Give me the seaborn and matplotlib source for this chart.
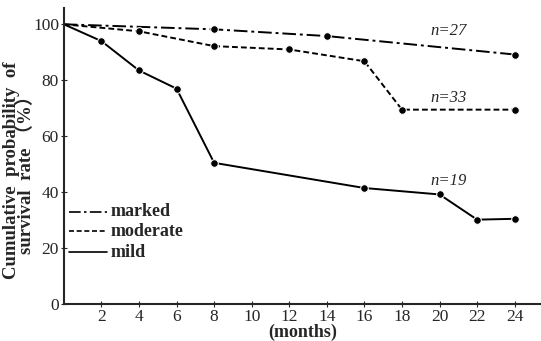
import matplotlib
matplotlib.use("Agg")
import matplotlib.pyplot as plt
import pandas as pd
import seaborn as sns

# Data
marked_months = [0, 8, 14, 24]
marked_values = [100, 98.2, 95.8, 89.2]
moderate_months = [0, 4, 8, 12, 16, 18, 24]
moderate_values = [100, 97.5, 92.2, 91.0, 86.8, 69.5, 69.5]
mild_months = [0, 2, 4, 6, 8, 16, 20, 22, 24]
mild_values = [100, 94.0, 83.5, 77.0, 50.5, 41.5, 39.2, 30.2, 30.5]

groups = ["marked", "moderate", "mild"]
n_labels = ["n=27", "n=33", "n=19"]
x_ticks = [2, 4, 6, 8, 10, 12, 14, 16, 18, 20, 22, 24]
y_ticks = [0, 20, 40, 60, 80, 100]

series = {
    "marked": (marked_months, marked_values),
    "moderate": (moderate_months, moderate_values),
    "mild": (mild_months, mild_values),
}
styles = {"marked": (0, (7, 2, 1.5, 2)), "moderate": (0, (3, 1.6)), "mild": "-"}

sns.set_style("ticks")
plt.rcParams["font.family"] = ["Liberation Serif", "DejaVu Serif"]

fig = plt.figure(figsize=(5.41, 3.41), dpi=100)
ax = fig.add_axes([0.118, 0.108, 0.882, 0.87])

for g in groups:
    months, values = series[g]
    df = pd.DataFrame({"month": months, "value": values})
    sns.lineplot(data=df, x="month", y="value", ax=ax, color="black",
                 linestyle=styles[g], linewidth=1.4, marker="o",
                 markersize=5.5, markevery=list(range(1, len(months))))

# n= annotations
ax.text(19.5, 97.5, n_labels[0], fontsize=12, style="italic", va="center")
ax.text(19.5, 73.5, n_labels[1], fontsize=12, style="italic", va="center")
ax.text(19.5, 44.0, n_labels[2], fontsize=12, style="italic", va="center")

# legend drawn inside the axes
leg_y = [33, 26, 18.5]
for g, y in zip(groups, leg_y):
    ax.plot([0.3, 2.3], [y, y], color="black", linestyle=styles[g], linewidth=1.2)
    ax.text(2.5, y, g, fontsize=13, fontweight="bold", va="center")

ax.set_xlim(0, 25.4)
ax.set_ylim(0, 106)
ax.set_xticks(x_ticks)
ax.set_yticks(y_ticks)
ax.tick_params(direction="inout", length=5, labelsize=12.5, pad=1)
sns.despine(ax=ax)
for s in ["left", "bottom"]:
    ax.spines[s].set_linewidth(1.5)

ax.set_xlabel("(months)", fontsize=13, fontweight="bold", labelpad=-1)
ax.set_ylabel("Cumulative  probability  of\nsurvival  rate （%）", fontsize=13.5,
              fontweight="bold", linespacing=0.8,
              family=["Liberation Serif", "Noto Sans CJK SC"])
ax.yaxis.set_label_coords(-0.06, 0.45)

fig.savefig("out.png", dpi=100)
